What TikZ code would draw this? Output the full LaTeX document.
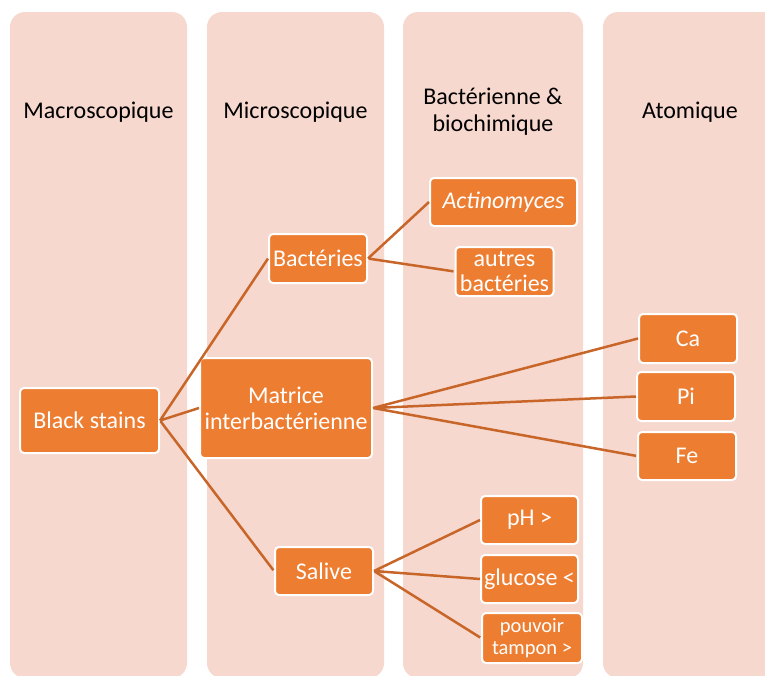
\documentclass[tikz,border=0pt]{standalone}
\usepackage{fontspec}
\setmainfont{Carlito}
\usepackage{tikz}
\usetikzlibrary{positioning}
\definecolor{panelpink}{RGB}{247,216,206}
\definecolor{boxorange}{RGB}{237,125,49}
\definecolor{linkbrown}{RGB}{200,102,42}

\begin{document}
\begin{tikzpicture}[x=1pt, y=-1pt,
    panel/.style={fill=panelpink, rounded corners=15pt},
    heading/.style={align=center, font=\fontsize{24}{27}\selectfont},
    box/.style={rectangle, rounded corners=4pt, fill=boxorange, draw=white,
        line width=2pt, text=white, inner sep=0pt, align=center,
        minimum width=98pt, minimum height=49pt,
        font=\fontsize{24}{26}\selectfont},
    link/.style={draw=linkbrown, line width=2.5pt, shorten >=1pt, shorten <=1pt}]

    \useasboundingbox (0,0) rectangle (765,675);
    \clip (0,0) rectangle (765,675);

    % columns
    \fill[panel] (10,12) rectangle (187,678);
    \fill[panel] (207,12) rectangle (384,678);
    \fill[panel] (403,12) rectangle (583,678);
    \fill[panel] (603,12) rectangle (800,678);

    \node[heading] (hmacro) at (98.5,112) {Macroscopique};
    \node[heading] (hmicro) at (295.5,112) {Microscopique};
    \node[heading] (hbact) at (493,112) {Bactérienne \&\\biochimique};
    \node[heading] (hatom) at (690,112) {Atomique};

    % boxes
    \node[box, minimum width=139pt, minimum height=65pt] (black) at (89.5,420.5) {Black stains};
    \node[box] (bact) at (318,258.5) {Bactéries};
    \node[box, minimum width=172pt, minimum height=100pt] (matrice) at (286,408) {Matrice\\interbactérienne};
    \node[box, minimum height=48pt] (salive) at (324,571) {Salive};

    \node[box, minimum width=147pt, minimum height=48pt] (actino) at (503.5,202) {\itshape Actinomyces};
    \node[box, font=\fontsize{24}{25}\selectfont] (autres) at (504.5,271.5) {autres\\bactéries};

    \node[box] (ca) at (688,338.5) {Ca};
    \node[box] (pi) at (686,396.5) {Pi};
    \node[box, minimum height=48pt] (fe) at (687,456) {Fe};

    \node[box, minimum width=97pt, minimum height=48pt] (ph) at (529.5,520) {pH >};
    \node[box, minimum width=97pt, minimum height=48pt] (glucose) at (529.5,579) {glucose <};
    \node[box, minimum width=100pt, minimum height=50pt, font=\fontsize{20.5}{22}\selectfont] (tampon) at (532,638) {pouvoir\\tampon >};

    % links
    \path[link]
        (black.east) -- (bact.west)
        (black.east) -- (matrice.west)
        (black.east) -- (salive.west);

    \path[link]
        (bact.east) -- (actino.west)
        (bact.east) -- (autres.west);

    \path[link]
        (matrice.east) -- (ca.west)
        (matrice.east) -- (pi.west)
        (matrice.east) -- (fe.west);

    \path[link]
        (salive.east) -- (ph.west)
        (salive.east) -- (glucose.west)
        (salive.east) -- (tampon.west);

\end{tikzpicture}
\end{document}
